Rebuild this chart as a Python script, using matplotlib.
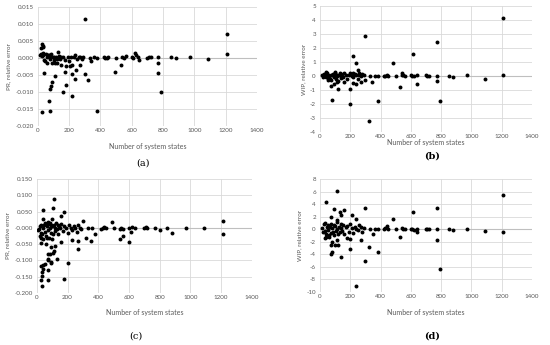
import matplotlib
matplotlib.use("Agg")
import matplotlib.pyplot as plt
import numpy as np

plt.rcParams['font.family'] = ['Lato', 'DejaVu Sans']

# x values of the dense cluster (small models), shared by all panels
states_cluster = [15, 20, 25, 30, 35, 40, 45, 50, 55, 60, 65, 70, 75, 80, 85, 90, 95,
                  100, 105, 110, 115, 120, 125, 130, 135, 140, 145, 150, 160, 170, 180,
                  190, 200, 210, 220, 230, 240, 250, 260, 270, 280, 290]
# x values of the near-zero points for larger models
states_large = [330, 360, 380, 420, 430, 440, 450, 500, 540, 550, 560, 600, 610, 620,
                640, 700, 710, 720, 770, 850, 880, 970]

# (a) PR relative error, exact vs approx (set 1)
pr1_cluster = [0.0010, 0.0012, 0.0005, 0.0015, 0.0008, -0.0005, -0.0010, 0.0012, 0.0003,
               -0.0015, 0.0010, 0.0008, -0.0003, 0.0005, 0.0012, -0.0016, 0.0002, 0.0004,
               -0.0006, -0.0016, 0.0003, -0.0002, -0.0015, 0.0018, 0.0006, -0.0003, -0.0020,
               0.0002, 0.0003, -0.0005, -0.0025, 0.0003, -0.0010, 0.0002, -0.0020, 0.0002,
               0.0010, -0.0004, 0.0003, 0.0002, -0.0002, 0.0003]
pr1_large = [0.0001, 0.0002, 0.0001, 0.0002, 0.0000, -0.0001, 0.0003, 0.0000, 0.0002,
             0.0000, 0.0005, 0.0003, 0.0001, 0.0015, 0.0004, 0.0001, 0.0003, 0.0002,
             0.0004, 0.0003, -0.0001, 0.0003]
states_a_out = [300, 1210, 1210, 20, 25, 30, 35, 40, 70, 75, 25, 80, 82, 90, 110, 160,
                180, 175, 218, 215, 240, 242, 205, 300, 320, 380, 340, 270, 490, 530,
                770, 770, 790, 625, 645, 1090]
pr1_out = [0.0115, 0.0070, 0.0011, 0.0030, 0.0040, 0.0036, 0.0033, -0.0045, -0.0128,
           -0.0157, -0.0159, -0.0090, -0.0082, -0.0070, -0.0053, -0.0100, -0.0081,
           -0.0042, -0.0113, -0.0047, -0.0062, -0.0037, -0.0024, -0.0047, -0.0064,
           -0.0155, -0.0010, -0.0020, -0.0042, -0.0022, -0.0014, -0.0043, -0.0099,
           0.0008, -0.0006, -0.0002]

# (b) WIP relative error (set 1)
wip1_cluster = [0.10, -0.05, 0.15, 0.00, 0.05, -0.10, 0.20, -0.15, 0.10, 0.00, -0.20,
                0.05, -0.30, 0.10, 0.15, -0.10, 0.05, 0.20, -0.20, 0.10, 0.00, -0.35,
                0.10, 0.05, -0.15, 0.15, 0.00, -0.10, 0.20, 0.05, -0.20, 0.10, 0.25,
                0.00, -0.10, 0.15, 0.05, -0.20, 0.10, 0.00, 0.15, 0.05]
wip1_large = [0.00, 0.02, 0.00, 0.03, 0.00, 0.05, 0.02, 0.00, 0.05, 0.05, 0.00, 0.05,
              0.02, 0.02, 0.05, 0.05, 0.00, 0.03, 0.03, 0.02, -0.05, 0.05]
states_b_out = [300, 1210, 1210, 770, 615, 485, 215, 240, 250, 320, 380, 790, 200, 80,
                200, 120, 70, 90, 530, 640, 770, 1090, 340, 240, 270, 220, 300, 160,
                110, 50, 40, 100, 130, 260, 220, 540]
wip1_out = [2.85, 4.10, 0.05, 2.40, 1.57, 0.95, 1.40, 0.90, 0.45, -3.20, -1.80, -1.80,
            -2.00, -1.70, -0.95, -0.95, -0.70, -0.60, -0.80, -0.60, -0.35, -0.20, -0.40,
            -0.55, -0.40, -0.50, -0.25, -0.40, -0.40, -0.25, 0.30, 0.30, 0.25, 0.20,
            0.20, 0.20]

# (c) PR relative error (set 2)
pr2_cluster = [-0.005, 0.005, -0.015, 0.010, -0.020, 0.000, 0.008, -0.012, 0.015, -0.025,
               0.005, -0.008, 0.012, -0.030, 0.000, 0.010, -0.015, 0.006, -0.020, 0.010,
               0.000, -0.010, 0.015, -0.005, 0.008, -0.020, 0.005, 0.000, 0.012, -0.010,
               0.005, 0.000, -0.015, 0.010, 0.000, -0.008, 0.005, 0.000, -0.012, 0.008,
               0.000, -0.005]
pr2_large = [0.000, -0.002, -0.018, -0.003, 0.000, 0.002, 0.000, 0.000, -0.003, 0.000,
             -0.005, 0.000, -0.012, 0.002, 0.000, 0.000, 0.002, 0.000, 0.000, 0.000,
             -0.015, 0.000]
states_c_out = [110, 40, 105, 175, 160, 100, 40, 300, 490, 1210, 1210, 75, 85, 35, 30,
                70, 175, 35, 40, 35, 30, 40, 70, 55, 75, 70, 95, 90, 130, 200, 75, 85,
                110, 105, 115, 90, 60, 25, 40, 30, 65, 100, 160, 230, 270, 270, 320,
                350, 540, 560, 600, 800, 10, 20, 1090]
pr2_out = [0.088, 0.055, 0.060, 0.048, 0.035, 0.028, 0.027, 0.022, 0.018, 0.020, -0.020,
           0.017, 0.016, -0.180, -0.160, -0.160, -0.157, -0.148, -0.128, -0.135, -0.117,
           -0.115, -0.130, -0.110, -0.100, -0.097, -0.105, -0.107, -0.095, -0.108,
           -0.080, -0.080, -0.072, -0.078, -0.055, -0.060, -0.050, -0.048, -0.035,
           -0.032, -0.030, -0.035, -0.043, -0.038, -0.065, -0.040, -0.030, -0.040,
           -0.035, -0.025, -0.045, -0.008, -0.008, -0.025, 0.000]

# (d) WIP relative error (set 2)
wip2_cluster = [0.2, -0.5, 0.8, -0.3, 1.0, -0.8, 0.4, -0.2, 0.6, -1.2, 0.3, 0.9, -0.6, 0.2,
                -0.4, 0.7, -0.9, 0.5, -0.3, 1.2, 0.1, -0.7, 0.4, -0.5, 0.8, 0.2, -0.3, 0.6,
                -0.8, 0.3, 0.5, -0.4, 0.9, 0.2, -0.6, 0.4, 0.1, -0.2, 0.6, 0.3, -0.5, 0.2]
wip2_large = [0.0, 0.1, 0.0, 0.1, 0.2, 0.5, 0.1, 0.05, 0.2, 0.1, 0.0, 0.05, 0.0, -0.1,
              0.1, 0.0, 0.1, 0.0, 0.1, 0.05, -0.2, 0.1]
states_d_out = [110, 40, 90, 160, 300, 615, 770, 1210, 130, 140, 210, 240, 485, 70, 110,
                240, 790, 300, 135, 70, 80, 380, 200, 320, 100, 120, 70, 80, 30, 40, 270,
                770, 530, 200, 180, 350, 1090, 1210, 640, 110, 60]
wip2_out = [6.1, 4.4, 3.3, 3.0, 3.4, 2.8, 3.4, 5.4, 2.7, 2.3, 2.2, 1.7, 1.6, 1.9, 1.4,
            -9.1, -6.3, -5.1, -4.5, -3.9, -3.7, -3.6, -3.2, -2.9, -2.5, -2.6, -2.5, -2.1,
            -1.4, -1.3, -1.7, -1.7, -1.3, -1.6, -1.4, -0.7, -0.3, -0.4, -0.4, -1.8, -1.0]

# tag, axes rect, data, y label, y ticks, tick format, bold caption,
# x-label y (px), caption y (px), caption x (px)
panels = [
    ("(a)", [0.069, 0.635, 0.398, 0.345], pr1_cluster, pr1_large, states_a_out, pr1_out,
     "PR, relative error", np.arange(-0.020, 0.0151, 0.005), "%.3f", False, 147, 163, 143),
    ("(b)", [0.582, 0.617, 0.385, 0.366], wip1_cluster, wip1_large, states_b_out, wip1_out,
     "WIP, relative error", np.arange(-4, 5.1, 1), "%d", True, 143, 156, 432),
    ("(c)", [0.067, 0.151, 0.391, 0.330], pr2_cluster, pr2_large, states_c_out, pr2_out,
     "PR, relative error", np.arange(-0.200, 0.151, 0.050), "%.3f", False, 312, 336, 136),
    ("(d)", [0.582, 0.154, 0.385, 0.327], wip2_cluster, wip2_large, states_d_out, wip2_out,
     "WIP, relative error", np.arange(-10, 8.1, 2), "%d", True, 312, 336, 432),
]

fig = plt.figure(figsize=(5.5, 3.45), dpi=100)
grey = '#595959'
for tag, rect, yc, yl, xo, yo, ylab, yt, fmt, bold, xlab_y, cap_y, cap_x in panels:
    ax = fig.add_axes(rect)
    xs = states_cluster + states_large + xo
    ys = yc + yl + yo
    ax.scatter(xs, ys, s=8, color='black', zorder=3, linewidths=0)
    ax.set_xlim(0, 1400)
    ax.set_ylim(yt[0], yt[-1])
    ax.set_xticks(np.arange(0, 1401, 200))
    ax.set_yticks(yt)
    ax.set_yticklabels([fmt % v for v in yt])
    ax.grid(True, color='#d9d9d9', linewidth=0.6)
    ax.set_axisbelow(True)
    ax.axhline(0, color='#bfbfbf', linewidth=0.8, zorder=1)
    for s in ax.spines.values():
        s.set_visible(False)
    ax.tick_params(axis='x', length=0, labelsize=4.5, labelcolor=grey, pad=1.5)
    ax.tick_params(axis='y', length=0, labelsize=4.5, labelcolor=grey, pad=3)
    ax.set_ylabel(ylab, fontsize=4.5, color=grey, labelpad=3)
    cx = rect[0] + rect[2] / 2
    fig.text(cx, 1 - xlab_y / 345, "Number of system states", fontsize=5, color=grey,
             ha='center', va='center')
    fig.text(cap_x / 550, 1 - cap_y / 345, tag, fontsize=7, family='DejaVu Serif',
             fontweight='bold' if bold else 'normal', ha='center', va='center')

fig.savefig("out.png", dpi=100)
